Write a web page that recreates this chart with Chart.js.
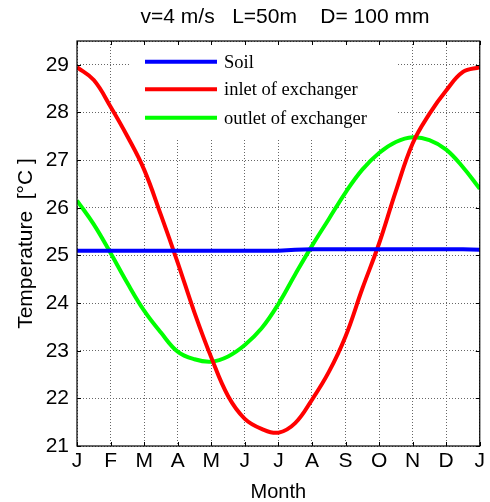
<!DOCTYPE html>
<html><head><meta charset="utf-8">
<script src="https://cdn.jsdelivr.net/npm/chart.js@4"></script>
<style>html,body{margin:0;padding:0;background:#fff}</style>
</head><body>
<canvas id="c" width="490" height="502"></canvas>
<script>
const chartTitle = 'v=4 m/s   L=50m    D= 100 mm';
const monthLabels = ['J','F','M','A','M','J','J','A','S','O','N','D','J'];
const monthPos = [0,0.5,1,1.5,2,2.5,3,3.5,4,4.5,5,5.5,6,6.5,7,7.5,8,8.5,9,9.5,10,10.5,11,11.5,12];
const soil   = [25.1,25.1,25.1,25.1,25.1,25.1,25.1,25.1,25.1,25.1,25.1,25.1,25.1,25.12,25.13,25.13,25.13,25.13,25.13,25.13,25.13,25.13,25.13,25.13,25.12];
const inlet  = [28.95,28.68,28.12,27.5,26.8,25.85,24.85,23.8,22.86,22.05,21.57,21.36,21.28,21.48,21.97,22.55,23.3,24.3,25.25,26.35,27.35,27.97,28.46,28.85,28.95];
const outlet = [26.15,25.65,25.05,24.42,23.84,23.38,22.98,22.82,22.77,22.88,23.12,23.47,23.98,24.6,25.2,25.76,26.32,26.8,27.15,27.38,27.48,27.42,27.22,26.85,26.4];
const seriesNames = ['Soil','inlet of exchanger','outlet of exchanger'];
const seriesColors = ['#0000ff','#ff0000','#00ff00'];
const yMin = 21, yMax = 29.5;

const SANS = '"Liberation Sans", Arial, sans-serif';
const toXY = arr => arr.map((v,i)=>({x:monthPos[i], y:v}));

const framePlugin = {
  id:'frame',
  beforeDraw(chart){
    const c=chart.ctx; c.save(); c.fillStyle='#fff'; c.fillRect(0,0,chart.width,chart.height); c.restore();
  },
  beforeDatasetsDraw(chart){
    const c=chart.ctx, a=chart.chartArea;
    const lx=a.left+53, ly=a.top+1, lw=267, lh=96;
    c.save();
    c.fillStyle='#fff'; c.fillRect(lx,ly,lw,lh);
    c.font='18.5px "Liberation Serif", "Times New Roman", serif';
    c.textBaseline='middle';
    const rows=[61.7,89.3,117.7];
    seriesNames.forEach((n,i)=>{
      c.strokeStyle=seriesColors[i]; c.lineWidth=4;
      c.beginPath(); c.moveTo(145,rows[i]); c.lineTo(217,rows[i]); c.stroke();
      c.fillStyle='#000'; c.fillText(n,224,rows[i]+1);
    });
    c.restore();
  },
  afterDraw(chart){
    const c=chart.ctx, a=chart.chartArea, xs=chart.scales.x, ys=chart.scales.y;
    c.save();
    c.strokeStyle='#000'; c.lineWidth=1.2;
    c.strokeRect(a.left,a.top,a.right-a.left,a.bottom-a.top);
    c.lineWidth=1;
    c.beginPath();
    for(let m=0;m<=12;m++){
      const x=Math.round(xs.getPixelForValue(m))+0.5;
      c.moveTo(x,a.bottom); c.lineTo(x,a.bottom-4);
      c.moveTo(x,a.top); c.lineTo(x,a.top+4);
    }
    for(let v=21;v<=29;v++){
      const y=Math.round(ys.getPixelForValue(v))+0.5;
      c.moveTo(a.left,y); c.lineTo(a.left+4,y);
      c.moveTo(a.right,y); c.lineTo(a.right-4,y);
    }
    c.stroke();
    c.fillStyle='#000'; c.font='21px '+SANS;
    c.textAlign='center'; c.textBaseline='middle';
    c.fillText(chartTitle,285,17);
    c.restore();
  }
};

new Chart(document.getElementById('c'),{
  type:'line',
  data:{datasets:[
    {label:seriesNames[0],data:toXY(soil),borderColor:seriesColors[0],borderWidth:4,pointRadius:0,tension:0},
    {label:seriesNames[1],data:toXY(inlet),borderColor:seriesColors[1],borderWidth:4,pointRadius:0,tension:0.4},
    {label:seriesNames[2],data:toXY(outlet),borderColor:seriesColors[2],borderWidth:4,pointRadius:0,tension:0.4}
  ]},
  options:{
    responsive:false, animation:false, devicePixelRatio:1,
    layout:{padding:{top:41,right:2,left:0,bottom:0}},
    plugins:{legend:{display:false},title:{display:false},tooltip:{enabled:false}},
    scales:{
      x:{type:'linear',min:0,max:12,
        afterFit(s){s.height=56;},
        ticks:{stepSize:1,autoSkip:false,maxRotation:0,color:'#000',padding:5,
          font:{family:SANS,size:21,lineHeight:1},
          callback:(v)=>Number.isInteger(v)?monthLabels[v]:''},
        grid:{color:'#666',lineWidth:1,drawTicks:false},
        border:{display:false,dash:[1,2]},
        title:{display:true,text:'Month',color:'#000',font:{family:SANS,size:20,lineHeight:1},padding:{top:0,bottom:0}}
      },
      y:{type:'linear',min:yMin,max:yMax,
        afterFit(s){s.width=77;},
        ticks:{stepSize:1,color:'#000',padding:8,
          font:{family:SANS,size:21},
          callback:(v)=>Number.isInteger(v)?String(v):''},
        grid:{color:'#666',lineWidth:1,drawTicks:false},
        border:{display:false,dash:[1,2]},
        title:{display:true,text:'Temperature  [°C ]',color:'#000',font:{family:SANS,size:21,lineHeight:1},padding:{top:16,bottom:0}}
      }
    }
  },
  plugins:[framePlugin]
});
</script>
</body></html>
